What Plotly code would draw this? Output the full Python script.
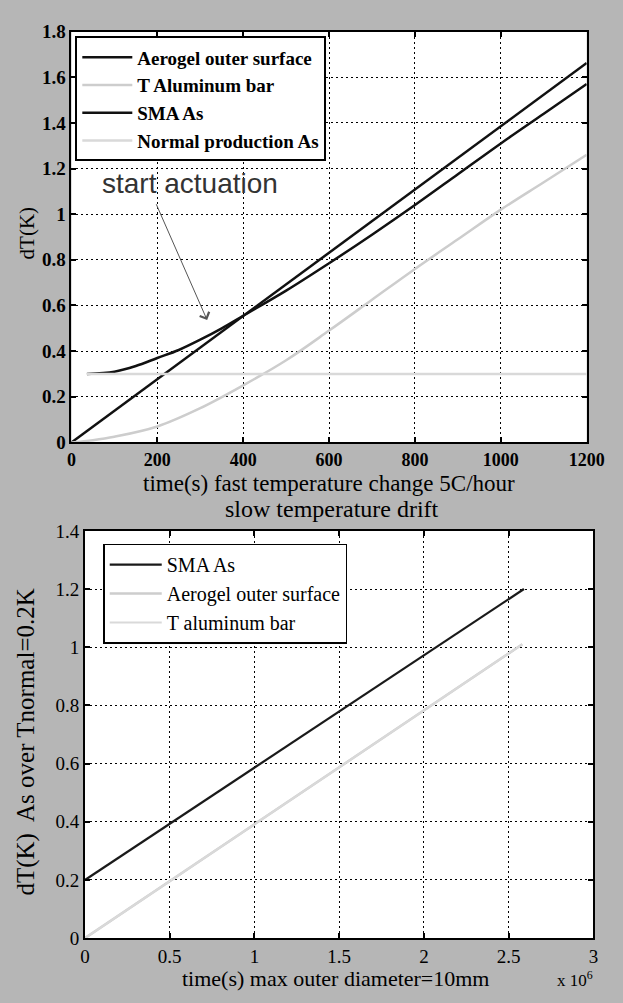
import plotly.graph_objects as go

W, H = 623, 1003

# ---------- top chart data ----------
t_aero = [0, 200, 400, 600, 800, 1000, 1200]
v_aero = [0, 0.277, 0.554, 0.831, 1.108, 1.385, 1.662]

t_alu = [0, 50, 100, 200, 300, 400, 500, 600, 700, 800, 900, 1000, 1100, 1200]
v_alu = [0, 0.01, 0.025, 0.07, 0.15, 0.25, 0.36, 0.49, 0.625, 0.76, 0.89, 1.02, 1.14, 1.26]

t_sma = [36, 100, 150, 200, 250, 300, 350, 400, 500, 600, 700, 800, 900, 1000, 1100, 1200]
v_sma = [0.30, 0.31, 0.335, 0.37, 0.405, 0.45, 0.50, 0.555, 0.665, 0.785, 0.91, 1.04, 1.175, 1.31, 1.44, 1.57]

t_norm = [36, 1200]
v_norm = [0.30, 0.30]

# ---------- bottom chart data ----------
t2_sma = [0, 0.5e6, 1.0e6, 1.5e6, 2.0e6, 2.59e6]
v2_sma = [0.2, 0.393, 0.586, 0.779, 0.972, 1.2]
t2_aero = [0, 0.5e6, 1.0e6, 1.5e6, 2.0e6, 2.58e6]
v2_aero = [0, 0.196, 0.392, 0.588, 0.784, 1.01]
t2_alu = [0, 0.5e6, 1.0e6, 1.5e6, 2.0e6, 2.58e6]
v2_alu = [0, 0.196, 0.392, 0.588, 0.784, 1.01]

x2_tickvals = [0, 0.5e6, 1.0e6, 1.5e6, 2.0e6, 2.5e6, 3.0e6]
x2_ticktext = ["0", "0.5", "1", "1.5", "2", "2.5", "3"]

SERIF = "Liberation Serif, Times New Roman, serif"
BLACK = "#111111"
GRAY1 = "#cdcdcd"
GRAY2 = "#d9d9d9"

fig = go.Figure()

# top traces
fig.add_trace(go.Scatter(x=t_aero, y=v_aero, mode="lines", name="Aerogel outer surface",
                         line=dict(color=BLACK, width=2.5), xaxis="x", yaxis="y", legend="legend"))
fig.add_trace(go.Scatter(x=t_alu, y=v_alu, mode="lines", name="T Aluminum bar", line_shape="spline",
                         line=dict(color=GRAY1, width=2.5), xaxis="x", yaxis="y", legend="legend"))
fig.add_trace(go.Scatter(x=t_sma, y=v_sma, mode="lines", name="SMA As", line_shape="spline",
                         line=dict(color=BLACK, width=2.5), xaxis="x", yaxis="y", legend="legend"))
fig.add_trace(go.Scatter(x=t_norm, y=v_norm, mode="lines", name="Normal production As",
                         line=dict(color=GRAY2, width=2.5), xaxis="x", yaxis="y", legend="legend"))

# bottom traces
fig.add_trace(go.Scatter(x=t2_sma, y=v2_sma, mode="lines", name="SMA As",
                         line=dict(color="#1a1a1a", width=2.2), xaxis="x2", yaxis="y2", legend="legend2"))
fig.add_trace(go.Scatter(x=t2_aero, y=v2_aero, mode="lines", name="Aerogel outer surface",
                         line=dict(color=GRAY1, width=2.5), xaxis="x2", yaxis="y2", legend="legend2"))
fig.add_trace(go.Scatter(x=t2_alu, y=v2_alu, mode="lines", name="T aluminum bar",
                         line=dict(color=GRAY2, width=2), xaxis="x2", yaxis="y2", legend="legend2"))

axis_common = dict(showline=True, linecolor="black", linewidth=2, mirror="ticks",
                   ticks="inside", ticklen=5, tickcolor="black", tickwidth=1.5,
                   showgrid=True, gridcolor="black", gridwidth=1.4, griddash="2px,3px",
                   zeroline=False)

fig.update_layout(
    width=W, height=H,
    margin=dict(l=0, r=0, t=0, b=0),
    paper_bgcolor="#b6b6b6",
    plot_bgcolor="white",
    showlegend=True,
    xaxis=dict(domain=[69 / W, 604 / W], range=[0, 1200], tickvals=[0, 200, 400, 600, 800, 1000, 1200],
               anchor="y", tickfont=dict(family=SERIF, size=18, color="black", weight="bold"), **axis_common),
    yaxis=dict(domain=[1 - 441.7 / H, 1 - 22 / H], range=[0, 1.8], dtick=0.2, anchor="x",
               tickfont=dict(family=SERIF, size=19, color="black", weight="bold"), **axis_common),
    xaxis2=dict(domain=[83 / W, 611 / W], range=[0, 3e6], tickvals=x2_tickvals, ticktext=x2_ticktext,
                anchor="y2", tickfont=dict(family=SERIF, size=19, color="black"), **axis_common),
    yaxis2=dict(domain=[1 - 948 / H, 1 - 532 / H], range=[0, 1.4], dtick=0.2, anchor="x2",
                tickfont=dict(family=SERIF, size=19, color="black"), **axis_common),
    legend=dict(x=73 / W, y=1 - 27 / H, xanchor="left", yanchor="top",
                bgcolor="white", bordercolor="black", borderwidth=2,
                font=dict(family=SERIF, size=19, color="black", weight="bold"),
                tracegroupgap=0, itemwidth=50),
    legend2=dict(x=102 / W, y=1 - 545 / H, xanchor="left", yanchor="top",
                 bgcolor="white", bordercolor="black", borderwidth=1.5,
                 font=dict(family=SERIF, size=20, color="black"),
                 tracegroupgap=0, itemwidth=52),
)

annotations = [
    # start actuation text and arrow
    dict(x=275, y=1.135, xref="x", yref="y", text="start actuation", showarrow=False,
         xanchor="center", yanchor="middle",
         font=dict(family="Liberation Sans, Arial, sans-serif", size=28, color="#333333")),
    dict(x=316, y=0.536, ax=196, ay=1.05, xref="x", yref="y", axref="x", ayref="y", text="",
         showarrow=True, arrowhead=4, arrowsize=2, arrowwidth=1, arrowcolor="#555555"),
    # axis titles
    dict(x=336 / W, y=1 - 484 / H, xref="paper", yref="paper", showarrow=False,
         xanchor="center", yanchor="middle",
         text="time(s) fast temperature change 5C/hour",
         font=dict(family=SERIF, size=23, color="black")),
    dict(x=340 / W, y=1 - 510 / H, xref="paper", yref="paper", showarrow=False,
         xanchor="center", yanchor="middle",
         text="slow temperature drift", font=dict(family=SERIF, size=24, color="black")),
    dict(x=23 / W, y=1 - 228 / H, xref="paper", yref="paper", showarrow=False, textangle=-90,
         xanchor="center", yanchor="middle",
         text="dT(K)", font=dict(family=SERIF, size=21, color="black")),
    dict(x=343 / W, y=1 - 989 / H, xref="paper", yref="paper", showarrow=False,
         xanchor="center", yanchor="middle",
         text="time(s) max outer diameter=10mm", font=dict(family=SERIF, size=22, color="black")),
    dict(x=592 / W, y=1 - 990 / H, xref="paper", yref="paper", showarrow=False,
         xanchor="center", yanchor="middle",
         text="x 10<sup>6</sup>", font=dict(family=SERIF, size=17, color="black")),
    dict(x=22 / W, y=1 - 748 / H, xref="paper", yref="paper", showarrow=False, textangle=-90,
         xanchor="center", yanchor="middle",
         text="dT(K)  As over Tnormal=0.2K", font=dict(family=SERIF, size=25, color="black")),
]
fig.update_layout(annotations=annotations)

fig.write_html("out.html")
